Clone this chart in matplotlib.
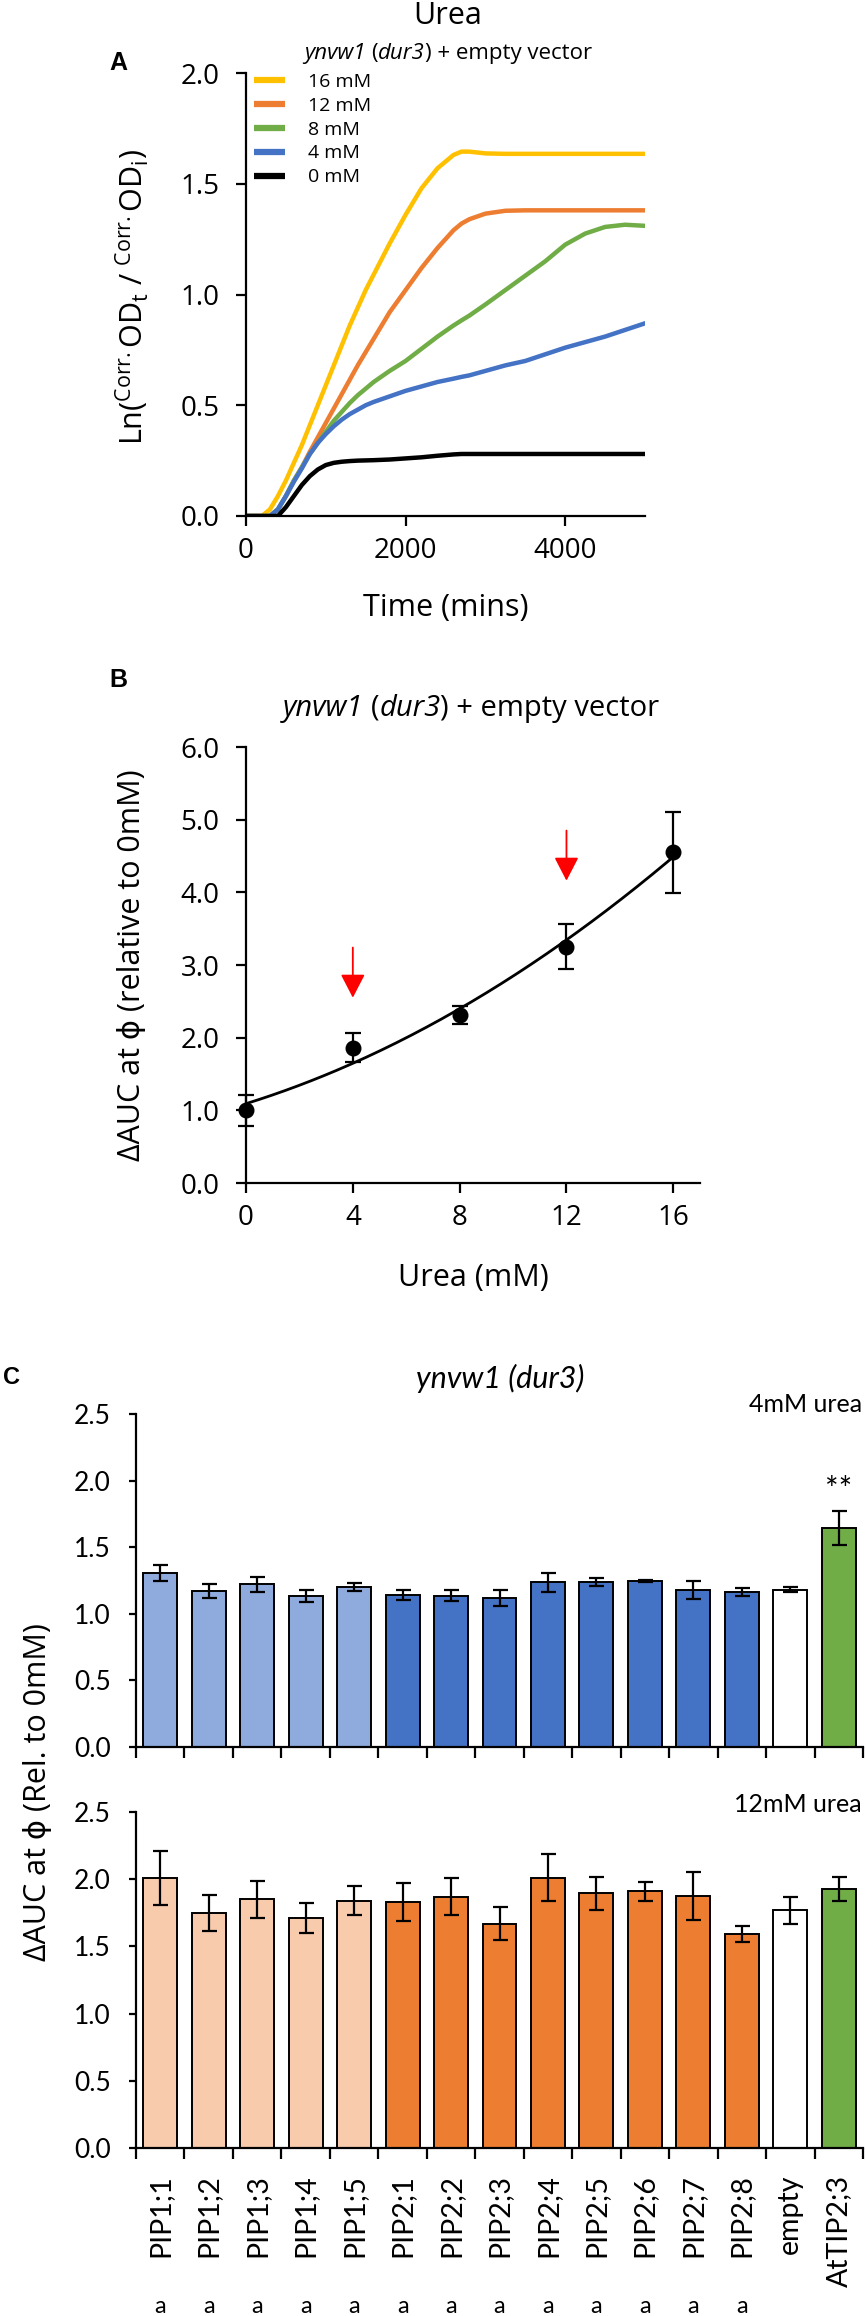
import numpy as np
import matplotlib
matplotlib.use('Agg')
import matplotlib.pyplot as plt
from matplotlib.ticker import FormatStrFormatter

# ---------------- Panel A data: growth curves ----------------
time_min = [0, 200, 300, 400, 500, 600, 700, 800, 900, 1000, 1100, 1200, 1300, 1400, 1500, 1600,
            1800, 2000, 2200, 2400, 2600, 2700, 2800, 3000, 3250, 3500, 3750, 4000, 4250, 4500, 4750, 5000]
od_16mM = [0, 0, 0.03, 0.09, 0.16, 0.24, 0.32, 0.41, 0.50, 0.59, 0.68, 0.77, 0.86, 0.94, 1.02, 1.09,
           1.23, 1.36, 1.48, 1.57, 1.63, 1.645, 1.645, 1.637, 1.635, 1.635, 1.635, 1.635, 1.635, 1.635, 1.635, 1.635]
od_12mM = [0, 0, 0, 0.03, 0.09, 0.16, 0.22, 0.29, 0.355, 0.42, 0.485, 0.55, 0.615, 0.68, 0.74, 0.80,
           0.92, 1.02, 1.12, 1.21, 1.29, 1.32, 1.34, 1.365, 1.378, 1.38, 1.38, 1.38, 1.38, 1.38, 1.38, 1.38]
od_8mM = [0, 0, 0, 0.03, 0.09, 0.16, 0.22, 0.28, 0.33, 0.38, 0.43, 0.47, 0.51, 0.545, 0.575, 0.605,
          0.655, 0.70, 0.755, 0.81, 0.86, 0.883, 0.905, 0.955, 1.02, 1.085, 1.15, 1.225, 1.275, 1.305, 1.315, 1.31]
od_4mM = [0, 0, 0, 0.03, 0.09, 0.155, 0.215, 0.28, 0.33, 0.37, 0.405, 0.435, 0.46, 0.48, 0.50, 0.515,
          0.54, 0.565, 0.585, 0.605, 0.62, 0.628, 0.635, 0.655, 0.68, 0.70, 0.73, 0.76, 0.785, 0.81, 0.84, 0.87]
od_0mM = [0, 0, 0, 0, 0.04, 0.09, 0.14, 0.18, 0.21, 0.23, 0.24, 0.245, 0.248, 0.25, 0.251, 0.252,
          0.255, 0.26, 0.265, 0.272, 0.278, 0.28, 0.28, 0.28, 0.28, 0.28, 0.28, 0.28, 0.28, 0.28, 0.28, 0.28]
curve_labels = ['16 mM', '12 mM', '8 mM', '4 mM', '0 mM']
curve_colors = ['#FFC000', '#ED7D31', '#70AD47', '#4472C4', '#000000']

# ---------------- Panel B data ----------------
urea_mM = [0, 4, 8, 12, 16]
auc_rel = [1.00, 1.86, 2.31, 3.25, 4.55]
auc_err = [0.21, 0.20, 0.12, 0.31, 0.56]
arrow_at = [4, 12]
arrow_tip = [2.55, 4.16]

# ---------------- Panel C data ----------------
constructs = ['PIP1;1', 'PIP1;2', 'PIP1;3', 'PIP1;4', 'PIP1;5', 'PIP2;1', 'PIP2;2', 'PIP2;3',
              'PIP2;4', 'PIP2;5', 'PIP2;6', 'PIP2;7', 'PIP2;8', 'empty', 'AtTIP2;3']
groups = ['PIP1'] * 5 + ['PIP2'] * 8 + ['empty', 'TIP']
auc_4mM = [1.31, 1.17, 1.22, 1.13, 1.20, 1.14, 1.135, 1.12, 1.235, 1.24, 1.245, 1.18, 1.16, 1.18, 1.645]
err_4mM = [0.06, 0.05, 0.055, 0.045, 0.03, 0.035, 0.04, 0.06, 0.07, 0.03, 0.01, 0.07, 0.03, 0.02, 0.13]
auc_12mM = [2.01, 1.75, 1.85, 1.71, 1.84, 1.83, 1.87, 1.67, 2.01, 1.895, 1.91, 1.873, 1.59, 1.77, 1.93]
err_12mM = [0.20, 0.135, 0.135, 0.11, 0.11, 0.14, 0.14, 0.125, 0.175, 0.125, 0.07, 0.18, 0.06, 0.10, 0.09]
sig_4mM = [''] * 14 + ['**']
letters = ['a'] * 13 + ['', '']
colors_4mM = {'PIP1': '#8FAADC', 'PIP2': '#4472C4', 'empty': '#FFFFFF', 'TIP': '#70AD47'}
colors_12mM = {'PIP1': '#F8CBAD', 'PIP2': '#ED7D31', 'empty': '#FFFFFF', 'TIP': '#70AD47'}

# ---------------- Style ----------------
plt.rcParams['font.family'] = ['Open Sans', 'DejaVu Sans']
plt.rcParams['mathtext.fontset'] = 'custom'
plt.rcParams['mathtext.rm'] = 'Open Sans'
plt.rcParams['mathtext.it'] = 'Open Sans:italic'

W, H = 866, 2316
fig = plt.figure(figsize=(W / 100, H / 100), dpi=100)
renderer = fig.canvas.get_renderer()


def rect(l, r, t, b):
    return [l / W, 1 - b / H, (r - l) / W, (b - t) / H]


def style_axes(ax, lw, ticklen, fs, family, pad):
    for s in ['top', 'right']:
        ax.spines[s].set_visible(False)
    for s in ['left', 'bottom']:
        ax.spines[s].set_linewidth(lw)
    ax.tick_params(direction='out', width=lw, length=ticklen, labelsize=fs, pad=pad)
    for lab in ax.get_xticklabels() + ax.get_yticklabels():
        lab.set_family(family)


def text_width(s, fs, style, family):
    t = fig.text(0, 0, s, fontsize=fs, style=style, family=family)
    w = t.get_window_extent(renderer).width
    t.remove()
    return w


def rich_text(xc, y_base, pieces, fs, family):
    """pieces: list of (string, style); None = a word space. Centered at xc (px), baseline y_base (px)."""
    space = text_width('a a', fs, 'normal', family) - text_width('aa', fs, 'normal', family)
    widths = [space if p is None else text_width(p[0], fs, p[1], family) for p in pieces]
    x = xc - sum(widths) / 2
    for p, w in zip(pieces, widths):
        if p is not None:
            fig.text(x / W, 1 - y_base / H, p[0], fontsize=fs, style=p[1], family=family,
                     ha='left', va='baseline')
        x += w


strain_pieces = [('ynvw1', 'italic'), None, ('(', 'normal'), ('dur3', 'italic'),
                 (') + empty vector', 'normal')]

# ================= Panel A =================
axA = fig.add_axes(rect(246, 645, 73, 516))
series = [od_16mM, od_12mM, od_8mM, od_4mM, od_0mM]
for vals, lab, col in zip(series, curve_labels, curve_colors):
    axA.plot(time_min, vals, color=col, lw=3.2, label=lab, solid_capstyle='round', solid_joinstyle='round')
axA.set_xlim(0, 5000)
axA.set_ylim(0, 2.0)
axA.set_xticks([0, 2000, 4000])
axA.set_yticks([0, 0.5, 1.0, 1.5, 2.0])
axA.yaxis.set_major_formatter(FormatStrFormatter('%.1f'))
style_axes(axA, 1.6, 7, 20, 'Open Sans', 12)
axA.tick_params(axis='x', pad=8)
axA.set_xlabel('Time (mins)', fontsize=22)
axA.xaxis.label.set_va('center')
axA.xaxis.set_label_coords(0.5, -(608 - 516) / 443)
axA.set_ylabel(r'Ln($^{\mathregular{Corr.}}$OD$_{\mathregular{t}}$ / $^{\mathregular{Corr.}}$OD$_{\mathregular{i}}$)',
               fontsize=22)
axA.yaxis.label.set_va('center')
axA.yaxis.set_label_coords((132 - 246) / 399, (516 - 297) / 443)
leg = axA.legend(loc='upper left', bbox_to_anchor=(0.02, 1.0), frameon=False, fontsize=14,
                 handlelength=1.6, handletextpad=1.2, labelspacing=0.3, borderaxespad=0, borderpad=0)
for h in leg.get_lines():
    h.set_linewidth(4.5)
    h.set_solid_capstyle('butt')

fig.text(448 / W, 1 - 16 / H, 'Urea', ha='center', va='center', fontsize=22)
rich_text(448, 59, strain_pieces, 16, 'Open Sans')
fig.text(118 / W, 1 - 63 / H, 'A', ha='center', va='center', fontsize=18, fontweight='bold',
         family='Liberation Sans')

# ================= Panel B =================
axB = fig.add_axes(rect(246, 700, 747, 1183))
fit = np.polyfit(urea_mM, auc_rel, 2)
xs = np.linspace(min(urea_mM), max(urea_mM), 200)
axB.plot(xs, np.polyval(fit, xs), color='black', lw=2.0, zorder=2)
axB.errorbar(urea_mM, auc_rel, yerr=auc_err, fmt='o', color='black', ms=10.5, elinewidth=1.6,
             capsize=5.8, capthick=1.6, zorder=3, clip_on=False)
for xa, tip in zip(arrow_at, arrow_tip):
    axB.annotate('', xy=(xa, tip), xytext=(xa, tip + 0.69),
                 arrowprops=dict(arrowstyle='-|>,head_length=1.45,head_width=0.75', color='#FF0000',
                                 lw=1.3, shrinkA=0, shrinkB=0, mutation_scale=10))
axB.set_xlim(0, 17)
axB.set_ylim(0, 6.0)
axB.set_xticks(urea_mM)
axB.set_yticks([0, 1, 2, 3, 4, 5, 6])
axB.yaxis.set_major_formatter(FormatStrFormatter('%.1f'))
style_axes(axB, 1.6, 7, 20, 'Open Sans', 12)
axB.tick_params(axis='x', pad=8)
axB.set_xlabel('Urea (mM)', fontsize=22)
axB.xaxis.label.set_va('center')
axB.xaxis.set_label_coords(0.5, -(1278 - 1183) / 436)
axB.set_ylabel('ΔAUC at ϕ (relative to 0mM)', fontsize=22)
axB.yaxis.label.set_va('center')
axB.yaxis.set_label_coords((132 - 246) / 454, 0.5)
rich_text(471, 716, strain_pieces, 21, 'Open Sans')
fig.text(118 / W, 1 - 680 / H, 'B', ha='center', va='center', fontsize=18, fontweight='bold',
         family='Liberation Sans')

# ================= Panel C =================
axC1 = fig.add_axes(rect(136, 863, 1414, 1747))
axC2 = fig.add_axes(rect(136, 863, 1812, 2148))
xpos = np.arange(len(constructs))
for ax, vals, errs, cmap in [(axC1, auc_4mM, err_4mM, colors_4mM), (axC2, auc_12mM, err_12mM, colors_12mM)]:
    ax.bar(xpos, vals, width=0.7, color=[cmap[g] for g in groups], edgecolor='black', linewidth=1.4,
           zorder=2)
    ax.errorbar(xpos, vals, yerr=errs, fmt='none', ecolor='black', elinewidth=1.6, capsize=5.4,
                capthick=1.6, zorder=3)
    ax.set_xlim(-0.5, len(constructs) - 0.5)
    ax.set_ylim(0, 2.5)
    ax.set_yticks([0, 0.5, 1.0, 1.5, 2.0, 2.5])
    ax.yaxis.set_major_formatter(FormatStrFormatter('%.1f'))
    style_axes(ax, 1.6, 5, 19, 'Lato', 13)
    ax.set_xticks(xpos)
    ax.set_xticks(np.arange(-0.5, len(constructs), 1.0), minor=True)
    ax.tick_params(axis='x', which='major', length=0)
    ax.tick_params(axis='x', which='minor', length=8, width=1.6, direction='out')

axC1.set_xticklabels([])
axC2.set_xticklabels(constructs, rotation=90, fontsize=20.5, family='Lato')
axC2.tick_params(axis='x', which='major', pad=19)

for i, s in enumerate(sig_4mM):
    if s:
        axC1.text(i, auc_4mM[i] + err_4mM[i] + 0.15, s, ha='center', va='center', fontsize=23,
                  family='Lato')
for i, s in enumerate(letters):
    if s:
        axC2.text(i, -0.473, s, transform=axC2.get_xaxis_transform(), ha='center', va='center',
                  fontsize=17, family='Lato')

fig.text(862 / W, 1 - 1404 / H, '4mM urea', ha='right', va='center', fontsize=18, family='Lato')
fig.text(862 / W, 1 - 1805 / H, '12mM urea', ha='right', va='center', fontsize=18, family='Lato')
fig.text(500 / W, 1 - 1378 / H, 'ynvw1 (dur3)', ha='center', va='center', fontsize=22,
         style='italic', family='Lato')
fig.text(38 / W, 1 - 1792 / H, 'ΔAUC at ϕ (Rel. to 0mM)', ha='center', va='center', rotation=90,
         fontsize=22)
fig.text(11 / W, 1 - 1378 / H, 'C', ha='center', va='center', fontsize=17, fontweight='bold',
         family='Liberation Sans')

fig.savefig('out.png', dpi=100)
